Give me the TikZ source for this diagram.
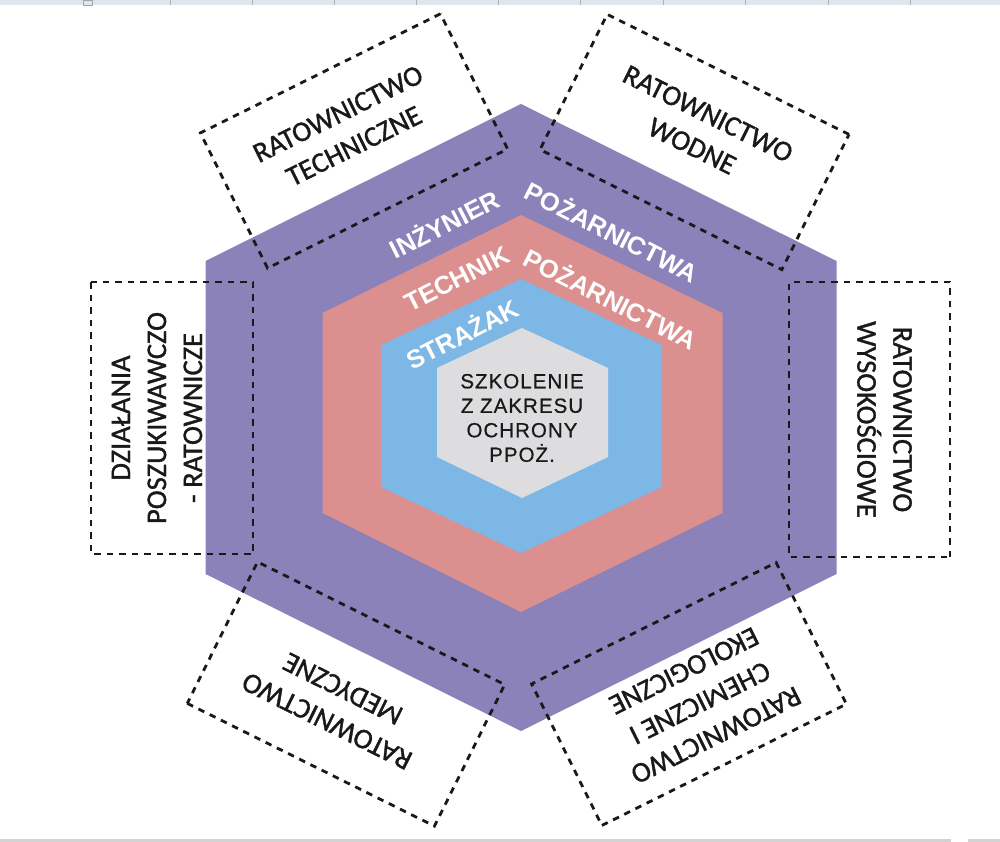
\documentclass[tikz,border=0pt]{standalone}
\usepackage{fontspec}
\setmainfont{Carlito}[FakeBold=1.2]
\newfontfamily\arialfont{Liberation Sans}
\newfontfamily\arialsp[LetterSpace=5,FakeBold=0.6]{Liberation Sans}
\definecolor{hexpurple}{RGB}{138,130,185}
\definecolor{hexpink}{RGB}{219,143,143}
\definecolor{hexblue}{RGB}{125,183,230}
\definecolor{hexgray}{RGB}{221,221,223}
\definecolor{topband}{RGB}{222,230,240}
\definecolor{botband}{RGB}{210,210,210}
\begin{document}
\begin{tikzpicture}[x=1pt,y=-1pt,
  dbox/.style={draw=black!90, line width=2.8pt, dash pattern=on 6.5pt off 6pt, inner sep=0pt},
  btext/.style={align=center, font=\fontsize{28.5}{36}\selectfont, text=black!90, inner sep=0pt},
  htext/.style={text=white, font=\arialfont\bfseries\fontsize{25.5}{30}\selectfont, inner sep=0pt},
  ctext/.style={align=center, font=\arialsp\fontsize{20.5}{24.5}\selectfont, text=black!90, inner sep=0pt}]
\useasboundingbox (0,0) rectangle (1000,842);
\fill[white] (0,0) rectangle (1000,842);
% window strips
\fill[topband] (0,0) rectangle (1000,5);
\foreach \x in {170,252,334,416,498,580,663,745,828,910}
  \draw[gray!60, line width=0.8pt] (\x,0) -- (\x,5);
\draw[gray!70, line width=0.7pt] (83,0) rectangle (92,5);
\fill[botband] (0,838.5) rectangle (951,842);
\fill[botband] (968,838.5) rectangle (1000,842);
% hexagons
\fill[hexpurple] (521,104) -- (836.5,261) -- (836.5,574) -- (521,731) -- (205.5,574) -- (205.5,261) -- cycle;
\fill[hexpink] (521,215) -- (722.5,313) -- (722.5,513) -- (521,612) -- (322.5,513) -- (322.5,313) -- cycle;
\fill[hexblue] (521,279) -- (662,345) -- (662,487) -- (521,553) -- (381,487) -- (381,345) -- cycle;
\fill[hexgray] (522,328) -- (608,368) -- (608,457) -- (522,498) -- (437,457) -- (437,368) -- cycle;
% ring labels
\node[htext, rotate=27] (inz) at (444,223) {INŻYNIER};
\node[htext, rotate=-27] (poz1) at (612,231) {POŻARNICTWA};
\node[htext, rotate=27] (tech) at (457,279) {TECHNIK};
\node[htext, rotate=-27] (poz2) at (611,298) {POŻARNICTWA};
\node[htext, rotate=27] (straz) at (462,333) {STRAŻAK};
\node[ctext] (szk) at (522,418) {SZKOLENIE\\Z ZAKRESU\\OCHRONY\\PPOŻ.};
% dashed boxes
\node[dbox, rotate=26.4, minimum width=268pt, minimum height=151pt] (b1) at (354,141) {};
\node[dbox, rotate=-26.4, minimum width=270pt, minimum height=151pt] (b2) at (694.5,142) {};
\node[dbox, rotate=90, minimum width=272pt, minimum height=162pt] (b3) at (172,418) {};
\node[dbox, rotate=-90, minimum width=275pt, minimum height=161pt] (b4) at (869.5,419.5) {};
\node[dbox, rotate=153.6, minimum width=276pt, minimum height=158pt] (b5) at (346,694) {};
\node[dbox, rotate=-153.6, minimum width=273pt, minimum height=158pt] (b6) at (689,694) {};
% box labels
\node[btext, rotate=26.4] (t1) at (346,130) {RATOWNICTWO\\TECHNICZNE};
\node[btext, rotate=-26.4] (t2) at (700,130) {RATOWNICTWO\\WODNE};
\node[btext, rotate=90] (t3) at (157,418) {DZIAŁANIA\\POSZUKIWAWCZO\\- RATOWNICZE};
\node[btext, rotate=-90] (t4) at (884.5,419.5) {RATOWNICTWO\\WYSOKOŚCIOWE};
\node[btext, rotate=153.6] (t5) at (335,705) {RATOWNICTWO\\MEDYCZNE};
\node[btext, rotate=-153.6] (t6) at (700,703) {RATOWNICTWO\\CHEMICZNE I\\EKOLOGICZNE};
\end{tikzpicture}
\end{document}
